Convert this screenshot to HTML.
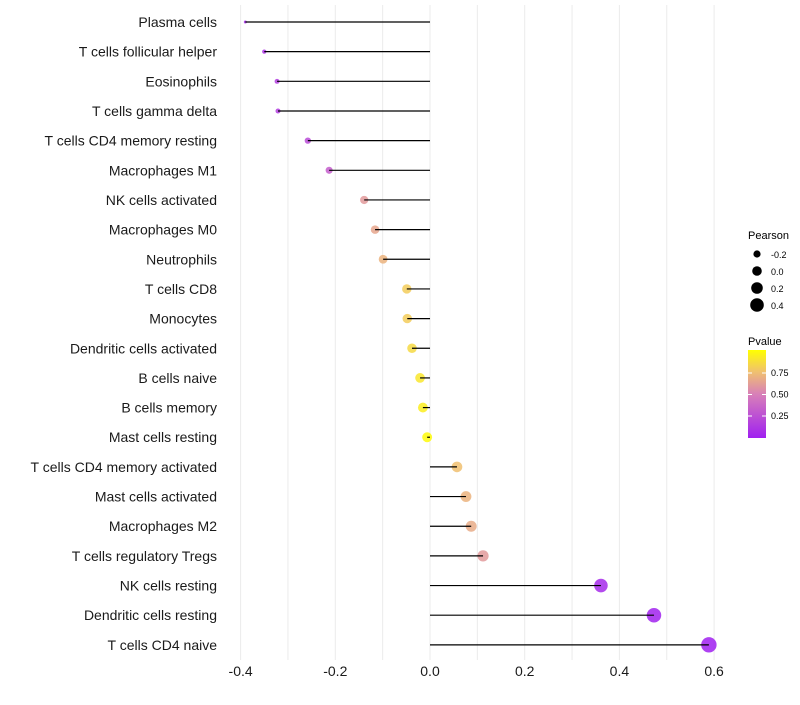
<!DOCTYPE html>
<html><head><meta charset="utf-8"><style>
body{margin:0;background:#fff;font-family:"Liberation Sans",sans-serif}
</style></head><body>
<svg id="chart" width="800" height="700" xmlns="http://www.w3.org/2000/svg">
<defs><linearGradient id="pg" x1="0" y1="1" x2="0" y2="0">
<stop offset="0" stop-color="#a020f0"/><stop offset="0.5" stop-color="#d880b8"/><stop offset="0.75" stop-color="#f0c070"/><stop offset="1" stop-color="#ffff00"/></linearGradient></defs>
<g id="grid"></g><g id="points"></g><g id="marks"></g><g id="labels"></g><g id="xaxis"></g>
<g font-size="10">
<text x="748" y="239" font-size="11">Pearson</text>
<circle cx="757" cy="254" r="3.6"/><text x="771" y="258" font-size="9">-0.2</text>
<circle cx="757" cy="271" r="4.8"/><text x="771" y="275" font-size="9">0.0</text>
<circle cx="757" cy="288" r="5.8"/><text x="771" y="292" font-size="9">0.2</text>
<circle cx="757" cy="305" r="6.8"/><text x="771" y="309" font-size="9">0.4</text>
</g>
<g>
<text x="748" y="345" font-size="11">Pvalue</text>
<rect x="748" y="350" width="18" height="88" fill="url(#pg)"/>
<g stroke="#fff" stroke-width="1"><line x1="748" x2="752" y1="373" y2="373"/><line x1="762" x2="766" y1="373" y2="373"/><line x1="748" x2="752" y1="394.5" y2="394.5"/><line x1="762" x2="766" y1="394.5" y2="394.5"/><line x1="748" x2="752" y1="416" y2="416"/><line x1="762" x2="766" y1="416" y2="416"/></g>
<g font-size="9"><text x="771" y="376">0.75</text><text x="771" y="397.5">0.50</text><text x="771" y="419">0.25</text></g>
</g>
</svg>
<script>
const categories=["Plasma cells","T cells follicular helper","Eosinophils","T cells gamma delta","T cells CD4 memory resting","Macrophages M1","NK cells activated","Macrophages M0","Neutrophils","T cells CD8","Monocytes","Dendritic cells activated","B cells naive","B cells memory","Mast cells resting","T cells CD4 memory activated","Mast cells activated","Macrophages M2","T cells regulatory  Tregs ","NK cells resting","Dendritic cells resting","T cells CD4 naive"];
const pearson=[-0.39,-0.35,-0.323,-0.321,-0.258,-0.213,-0.139,-0.116,-0.099,-0.049,-0.048,-0.038,-0.021,-0.015,-0.006,0.057,0.076,0.087,0.112,0.361,0.473,0.589];
const pvalue=[0.05,0.1,0.15,0.15,0.22,0.32,0.6,0.65,0.7,0.8,0.8,0.85,0.9,0.93,0.98,0.75,0.7,0.67,0.6,0.05,0.01,0.001];
const xTicks=[-0.4,-0.2,0.0,0.2,0.4,0.6];
const NS="http://www.w3.org/2000/svg";
const xs=v=>430+v*473.5;
const ys=i=>22+i*29.66;
const rs=v=>Math.sqrt(Math.max(2.25,2.25+58.3*(v+0.39)));
function col(p){const st=[[0,[160,32,240]],[0.5,[216,128,184]],[0.75,[240,192,112]],[1,[255,255,0]]];
for(let k=1;k<st.length;k++){if(p<=st[k][0]){const a=st[k-1],b=st[k],t=(p-a[0])/(b[0]-a[0]);return 'rgb('+a[1].map((c,j)=>Math.round(c+(b[1][j]-c)*t)).join(',')+')';}}return 'rgb(255,255,0)';}
function mk(tag,attrs,parent){const e=document.createElementNS(NS,tag);for(const k in attrs)e.setAttribute(k,attrs[k]);document.getElementById(parent).appendChild(e);return e;}
for(let v=-0.4;v<=0.651;v+=0.1){const g=mk('line',{x1:xs(v),x2:xs(v),y1:5,y2:660,stroke:'#ebebeb','stroke-width':1},'grid');

}
categories.forEach((c,i)=>{const y=ys(i);
const p=mk('circle',{cx:xs(pearson[i]),cy:y,r:rs(pearson[i]),fill:col(pvalue[i]),'fill-opacity':0.85},'points');


const l=mk('line',{x1:xs(pearson[i]),x2:xs(0),y1:y,y2:y,stroke:'#000','stroke-width':1.2},'marks');


const t=mk('text',{x:217,y:y+5,'text-anchor':'end','font-size':14,fill:'#1a1a1a'},'labels');
t.textContent=c;

});
xTicks.forEach(v=>{const t=mk('text',{x:xs(v),y:676,'text-anchor':'middle','font-size':14,fill:'#1a1a1a'},'xaxis');
t.textContent=v.toFixed(1);

});
</script>
</body></html>
